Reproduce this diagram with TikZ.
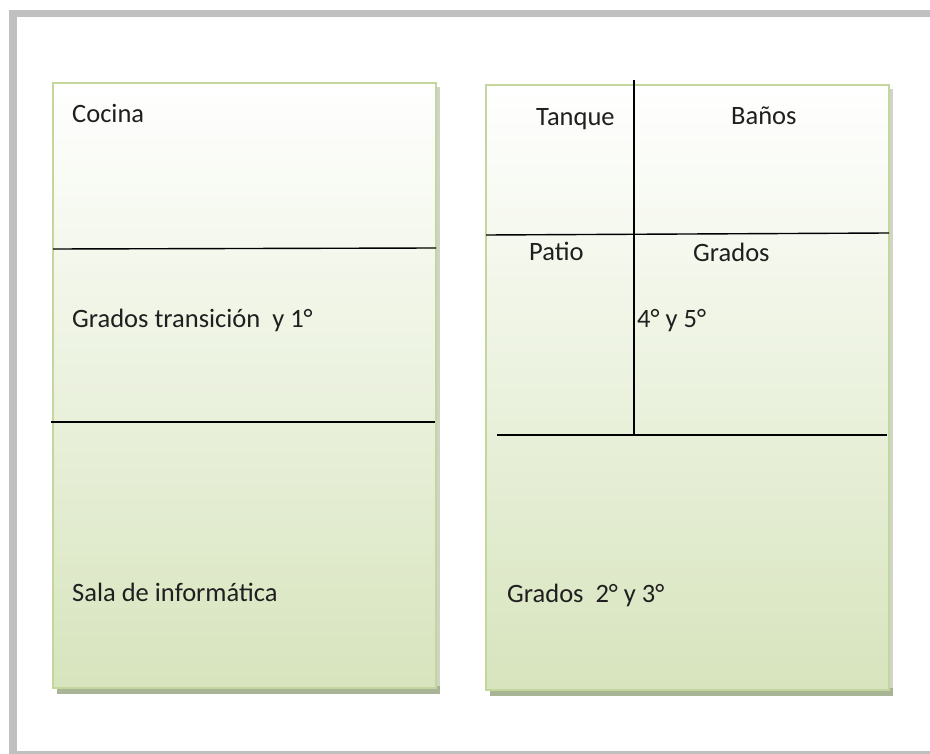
\documentclass[tikz,border=0pt]{standalone}
\usepackage{fontspec}
\setmainfont{Carlito}
\definecolor{framegray}{HTML}{C0C0C0}
\definecolor{boxgreen}{HTML}{D7E4BD}
\definecolor{boxedge}{HTML}{C3D69B}
\definecolor{shadowc}{HTML}{A9B396}
\definecolor{shadowr}{HTML}{D0D4C8}
\begin{document}
\begin{tikzpicture}[x=1pt,y=-1pt,
  roomtext/.style={anchor=base west,inner sep=0pt,text=black!88,font=\fontsize{26.5}{30}\selectfont},
  wall/.style={line width=1.4pt,black},
  boxline/.style={draw=boxedge,line width=1.6pt},
  roomshade/.style={top color=white,bottom color=boxgreen}]
\useasboundingbox (0,0) rectangle (930,754);
% frame
\fill[framegray] (9,10) rectangle (930,17);
\fill[framegray] (9,10) rectangle (17,754);
\fill[framegray] (9,751) rectangle (930,754);
% left block
\fill[shadowr] (436,87) rectangle (440,692);
\fill[shadowc] (57,686) rectangle (440,694);
\shade[roomshade] (53,83) rectangle (436,688);
\draw[boxline] (53,83) rectangle (436,688);
% right block
\fill[shadowr] (889,89) rectangle (893,694);
\fill[shadowc] (490,688) rectangle (893,696);
\shade[roomshade] (486,85) rectangle (889,690);
\draw[boxline] (486,85) rectangle (889,690);
% walls
\coordinate (la1) at (53,249);
\coordinate (la2) at (436,248);
\coordinate (lb1) at (51,422);
\coordinate (lb2) at (435,422);
\coordinate (ra1) at (486,235);
\coordinate (ra2) at (889,233);
\coordinate (rv1) at (634,80);
\coordinate (rv2) at (634,435);
\coordinate (rb1) at (497,435);
\coordinate (rb2) at (887,435);
\draw[wall] (la1) -- (la2);
\draw[wall] (lb1) -- (lb2);
\draw[wall] (ra1) -- (ra2);
\draw[wall] (rv1) -- (rv2);
\draw[wall] (rb1) -- (rb2);
% labels
\node[roomtext] (cocina) at (72,123) {Cocina};
\node[roomtext] (trans) at (72,327) {Grados transición\ \ y 1°};
\node[roomtext] (sala) at (72,601) {Sala de informática};
\node[roomtext] (tanque) at (536,126) {Tanque};
\node[roomtext] (banos) at (731,125) {Baños};
\node[roomtext] (patio) at (529,261) {Patio};
\node[roomtext] (grados) at (693,262) {Grados};
\node[roomtext] (cuatro) at (637,328) {4° y 5°};
\node[roomtext] (dos) at (507,602) {Grados\ \ 2° y 3°};
\end{tikzpicture}
\end{document}
